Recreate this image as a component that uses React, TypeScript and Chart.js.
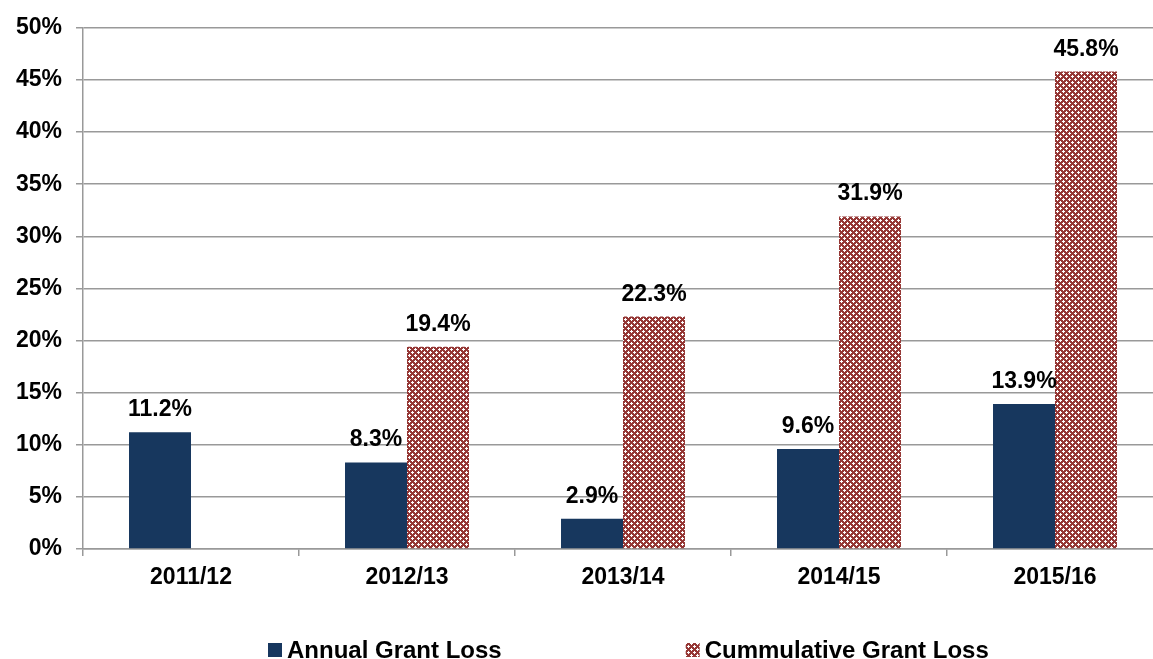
import React, { useEffect, useRef } from "react";
import { Chart, registerables } from "chart.js";

Chart.register(...registerables);

const categories = ["2011/12", "2012/13", "2013/14", "2014/15", "2015/16"];
const annualLoss = [11.2, 8.3, 2.9, 9.6, 13.9];
const cumulativeLoss = [null, 19.4, 22.3, 31.9, 45.8];
const seriesNames = ["Annual Grant Loss", "Cummulative Grant Loss"];

const FONT = "'Liberation Sans', Arial, sans-serif";
const NAVY = "#17375E";
const MAROON = "#953735";

function makePattern(): CanvasPattern | string {
  const c = document.createElement("canvas");
  c.width = 6;
  c.height = 6;
  const g = c.getContext("2d");
  if (!g) return MAROON;
  g.fillStyle = MAROON;
  g.fillRect(0, 0, 6, 6);
  g.fillStyle = "#ffffff";
  g.fillRect(1, 0, 1, 3);
  g.fillRect(0, 1, 3, 1);
  g.fillRect(4, 3, 1, 3);
  g.fillRect(3, 4, 3, 1);
  const p = g.createPattern(c, "repeat");
  return p || MAROON;
}

const valueLabels = {
  id: "valueLabels",
  afterDatasetsDraw(chart: any) {
    const ctx = chart.ctx;
    ctx.save();
    ctx.font = `bold 23px ${FONT}`;
    ctx.fillStyle = "#000";
    ctx.textAlign = "center";
    ctx.textBaseline = "alphabetic";
    chart.data.datasets.forEach((ds: any, i: number) => {
      const meta = chart.getDatasetMeta(i);
      meta.data.forEach((bar: any, j: number) => {
        const v = ds.data[j];
        if (v === null || v === undefined) return;
        ctx.fillText(v.toFixed(1) + "%", bar.x, bar.y - 16);
      });
    });
    ctx.restore();
  },
};

const bottomLegend = {
  id: "bottomLegend",
  afterDraw(chart: any) {
    const ctx = chart.ctx;
    ctx.save();
    ctx.font = `bold 24px ${FONT}`;
    const box = 14;
    const gapBoxText = 5;
    const itemGap = 184;
    const widths = chart.data.datasets.map(
      (ds: any) => box + gapBoxText + ctx.measureText(ds.label).width
    );
    let x = 268;
    const yc = 650;
    chart.data.datasets.forEach((ds: any, i: number) => {
      ctx.fillStyle = ds.backgroundColor;
      ctx.fillRect(x, yc - box / 2, box, box);
      ctx.fillStyle = "#000";
      ctx.textAlign = "left";
      ctx.textBaseline = "middle";
      ctx.fillText(ds.label, x + box + gapBoxText, yc + 1);
      x += widths[i] + itemGap;
    });
    ctx.restore();
  },
};

export default function App() {
  const ref = useRef<HTMLCanvasElement | null>(null);

  useEffect(() => {
    if (!ref.current) return;
    const pattern = makePattern();
    const chart = new Chart(ref.current, {
      type: "bar",
      data: {
        labels: categories,
        datasets: [
          {
            label: seriesNames[0],
            data: annualLoss,
            backgroundColor: NAVY,
            categoryPercentage: 0.574,
            barPercentage: 1,
          },
          {
            label: seriesNames[1],
            data: cumulativeLoss as any,
            backgroundColor: pattern as any,
            categoryPercentage: 0.574,
            barPercentage: 1,
          },
        ],
      },
      options: {
        responsive: false,
        animation: false,
        devicePixelRatio: 1,
        layout: { padding: { top: 25, right: 17, bottom: 50, left: 0 } },
        plugins: {
          legend: { display: false },
          tooltip: { enabled: false },
        },
        scales: {
          x: {
            grid: {
              display: true,
              drawOnChartArea: false,
              drawTicks: true,
              tickLength: 7,
              color: "#999",
              lineWidth: 1.5,
              offset: true,
            },
            border: { display: true, color: "#999", width: 1.5 },
            ticks: {
              color: "#000",
              font: { family: FONT, size: 23, weight: "bold" },
              padding: 8,
              maxRotation: 0,
            },
            afterFit(scale: any) {
              scale.height = 60;
            },
          },
          y: {
            min: 0,
            max: 50,
            grid: {
              color: "#999",
              lineWidth: 1.5,
              drawTicks: true,
              tickLength: 7,
            },
            border: { display: true, color: "#999", width: 1.5 },
            ticks: {
              stepSize: 5,
              color: "#000",
              padding: 14,
              font: { family: FONT, size: 23, weight: "bold" },
              callback: (v: any) => v + "%",
            },
            afterFit(scale: any) {
              scale.width = 83;
            },
          },
        },
      },
      plugins: [valueLabels, bottomLegend],
    });
    return () => chart.destroy();
  }, []);

  return (
    <div
      style={{
        position: "fixed",
        left: 0,
        top: 0,
        width: 1153,
        height: 659,
        overflow: "hidden",
        background: "#fff",
      }}
    >
      <canvas ref={ref} width={1180} height={659} style={{ display: "block" }} />
    </div>
  );
}
